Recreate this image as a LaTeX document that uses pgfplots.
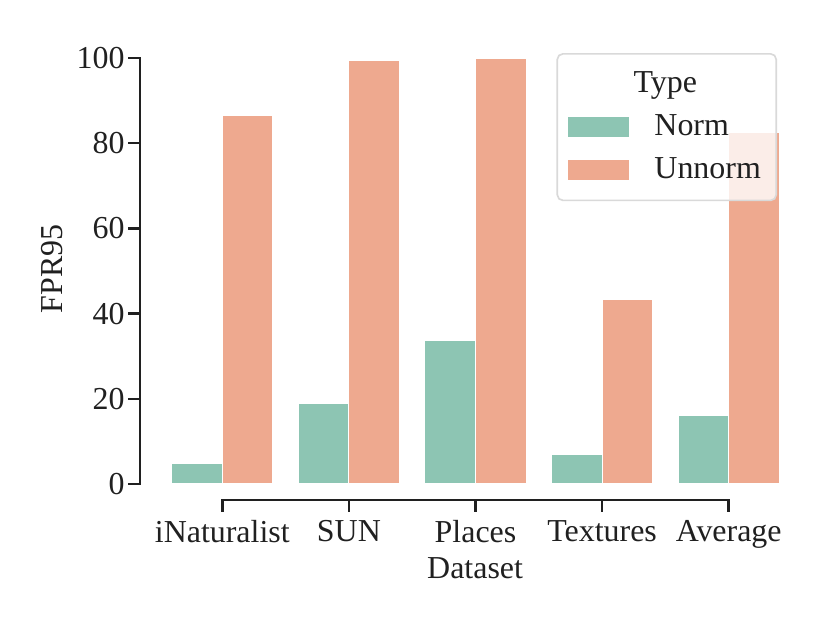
\documentclass[border=0pt]{standalone}
\usepackage{pgfplots}
\pgfplotsset{compat=1.18}
\usepackage{fontspec}
\setmainfont{Liberation Serif}
\definecolor{normc}{HTML}{8DC5B3}
\definecolor{unnormc}{HTML}{EEA98F}
\definecolor{axc}{HTML}{202020}
\begin{document}
\fontsize{11.5}{13.8}\selectfont
\begin{tikzpicture}
\path[use as bounding box] (0,0) rectangle (298.8pt,224.28pt);
\begin{axis}[
  at={(50.4pt,44.28pt)}, anchor=south west,
  scale only axis, width=234.72pt, height=166.32pt,
  xmin=-0.65, xmax=4.5, ymin=-3.76, ymax=104.7,
  clip=false,
  axis lines*=left,
  axis line style={draw=none},
  xtick={0,1,2,3,4},
  xticklabels={iNaturalist,SUN,Places,Textures,Average},
  ytick={0,20,40,60,80,100},
  tick align=outside,
  major tick length=4.3pt,
  tick style={axc, line width=0.9pt},
  /pgf/number format/assume math mode=true,
  ticklabel style={font=\fontsize{11.5}{13.8}\selectfont, text=axc},
  yticklabel style={xshift=2.8pt},
  xticklabel style={yshift=1pt},
  label style={font=\fontsize{11.5}{13.8}\selectfont, text=axc},
  xlabel={Dataset},
  ylabel={FPR95},
  xlabel style={at={(axis description cs:0.514,-0.147)}, anchor=center},
  ylabel style={at={(axis description cs:-0.135,0.5)}, anchor=center},
  legend cell align=left,
  legend style={at={(axis description cs:0.977,0.9675)}, anchor=north east,
    draw=black!15, line width=0.6pt, rounded corners=2pt, fill=white, fill opacity=0.8, text opacity=1,
    font=\fontsize{11.5}{13.8}\selectfont, text=axc, row sep=2.2pt, column sep=6.8pt,
    inner xsep=3.5pt, inner ysep=4.3pt},
  legend image code/.code={\fill[#1, sharp corners, fill opacity=1] (0pt,-3.8pt) rectangle (22.3pt,3.8pt);},
]
\addlegendimage{empty legend}
\addlegendentry{\hspace{-7.5pt}Type}
\addplot[ybar, bar width=0.4, bar shift=-0.2, fill=normc, draw=white, line width=0.36pt] coordinates {(0,4.7) (1,18.8) (2,33.6) (3,7.0) (4,16.0)};
\addlegendentry{Norm}
\addplot[ybar, bar width=0.4, bar shift=0.2, fill=unnormc, draw=white, line width=0.36pt] coordinates {(0,86.6) (1,99.5) (2,99.8) (3,43.4) (4,82.4)};
\addlegendentry{Unnorm}
\draw[axc, line width=0.9pt, line cap=rect] (axis cs:0,-3.76) -- (axis cs:4,-3.76);
\draw[axc, line width=0.9pt, line cap=rect] (axis cs:-0.65,0) -- (axis cs:-0.65,100);
\end{axis}
\end{tikzpicture}
\end{document}
